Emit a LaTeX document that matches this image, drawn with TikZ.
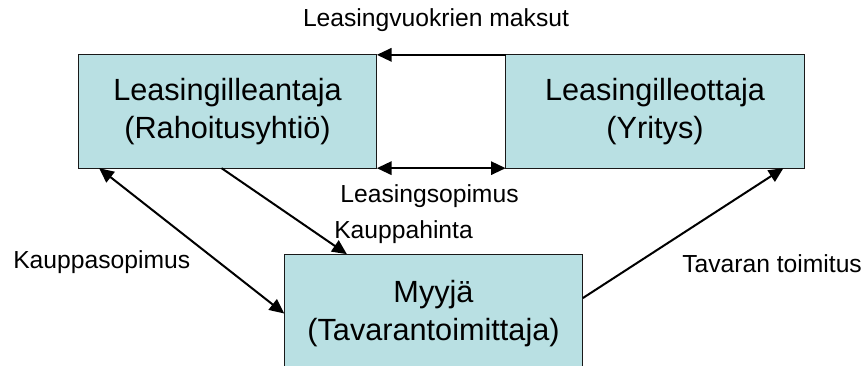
\documentclass[tikz,border=0pt]{standalone}
\usepackage{fontspec}
\setmainfont{Liberation Sans}
\usetikzlibrary{arrows.meta,calc}
\definecolor{BoxClr}{rgb}{0.725,0.878,0.890}
\definecolor{LineClr}{rgb}{0.1,0.1,0.1}

\begin{document}
\begin{tikzpicture}[x=.75pt,y=-.75pt,
  party/.style={draw=LineClr,line width=.8pt,fill=BoxClr,inner sep=0pt,outer sep=0pt,
    minimum width=224pt,align=center,font=\fontsize{23}{28}\selectfont},
  flow/.style={line width=1.5pt,-{Triangle[length=11pt,width=10pt]}},
  both/.style={line width=1.5pt,{Triangle[length=11pt,width=10pt]}-{Triangle[length=11pt,width=10pt]}},
  lbl/.style={inner sep=0pt,font=\fontsize{18.5}{22}\selectfont}]
\useasboundingbox (0,0) rectangle (868,366);

\node[party,minimum height=85pt] (lessor) at (227.5,111.5) {Leasingilleantaja\\(Rahoitusyhtiö)};
\node[party,minimum height=85pt] (lessee) at (655,111.5) {Leasingilleottaja\\(Yritys)};
\node[party,minimum height=89pt] (seller) at (433.5,313.5) {Myyjä\\(Tavarantoimittaja)};

\draw[flow] (lessee.north west) -- (lessor.north east);
\draw[both] (lessor.south east) -- (lessee.south west);
\draw[both] ($(lessor.south west)!.07!(lessor.south east)$) -- (seller.west);
\draw[flow] ($(lessor.south west)!.48!(lessor.south east)$) -- ($(seller.north west)!.21!(seller.north east)$);
\draw[flow] ($(seller.north east)!.37!(seller.south east)$) -- ($(lessee.south west)!.93!(lessee.south east)$);

\node[lbl,anchor=base] (rent) at (436,27) {Leasingvuokrien maksut};
\node[lbl,anchor=base] (contract) at (429.5,203) {Leasingsopimus};
\node[lbl,anchor=base west] (price) at (334,239) {Kauppahinta};
\node[lbl,anchor=base west] (purchase) at (13,269) {Kauppasopimus};
\node[lbl,anchor=base west] (delivery) at (682,273) {Tavaran toimitus};

\end{tikzpicture}
\end{document}
